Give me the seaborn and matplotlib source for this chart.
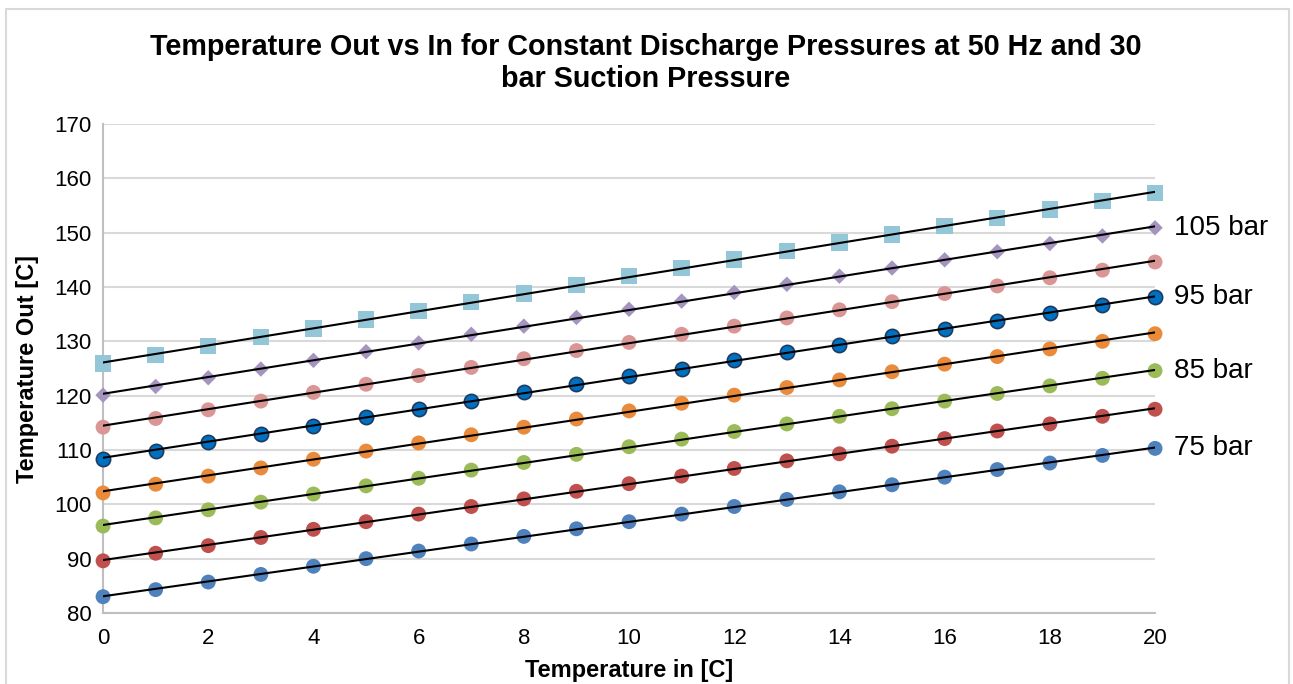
import numpy as np
import pandas as pd
import matplotlib
matplotlib.use("Agg")
import matplotlib.pyplot as plt
from matplotlib.patches import Rectangle
import seaborn as sns

# ---- data ----
temp_in = list(range(0, 21))
s75 = [83.0, 84.3, 85.7, 87.1, 88.6, 90.0, 91.4, 92.7, 94.1, 95.5, 96.8, 98.2, 99.6, 100.9, 102.3, 103.6, 105.0, 106.4, 107.6, 109.0, 110.3]
s80 = [89.6, 91.0, 92.4, 93.9, 95.4, 96.8, 98.2, 99.6, 101.0, 102.4, 103.8, 105.2, 106.6, 108.0, 109.3, 110.7, 112.1, 113.5, 114.8, 116.2, 117.5]
s85 = [96.0, 97.5, 99.0, 100.4, 101.9, 103.4, 104.8, 106.3, 107.7, 109.2, 110.6, 112.0, 113.4, 114.8, 116.2, 117.6, 119.0, 120.4, 121.8, 123.2, 124.6]
s90 = [102.1, 103.7, 105.2, 106.7, 108.3, 109.8, 111.3, 112.8, 114.2, 115.7, 117.2, 118.6, 120.1, 121.5, 122.9, 124.4, 125.8, 127.2, 128.6, 130.0, 131.4]
s95 = [108.4, 109.9, 111.4, 113.0, 114.5, 116.0, 117.5, 119.1, 120.6, 122.1, 123.6, 125.0, 126.5, 128.0, 129.4, 130.9, 132.3, 133.8, 135.2, 136.6, 138.1]
s100 = [114.2, 115.8, 117.4, 119.0, 120.6, 122.1, 123.7, 125.2, 126.8, 128.3, 129.8, 131.3, 132.8, 134.3, 135.8, 137.3, 138.8, 140.2, 141.7, 143.1, 144.6]
s105 = [120.1, 121.7, 123.3, 124.9, 126.5, 128.1, 129.7, 131.3, 132.8, 134.4, 135.9, 137.4, 139.0, 140.5, 142.0, 143.5, 145.0, 146.5, 148.0, 149.4, 150.9]
s110 = [125.9, 127.5, 129.1, 130.8, 132.4, 134.0, 135.6, 137.2, 138.8, 140.4, 142.0, 143.5, 145.1, 146.6, 148.2, 149.7, 151.2, 152.7, 154.3, 155.8, 157.3]

series_names = ["75 bar", "80 bar", "85 bar", "90 bar", "95 bar", "100 bar", "105 bar", "110 bar"]
series_values = [s75, s80, s85, s90, s95, s100, s105, s110]
labelled = ["75 bar", "85 bar", "95 bar", "105 bar"]

title = "Temperature Out vs In for Constant Discharge Pressures at 50 Hz and 30\nbar Suction Pressure"
xlabel = "Temperature in [C]"
ylabel = "Temperature Out [C]"
xticks = list(range(0, 21, 2))
yticks = list(range(80, 171, 10))

# ---- styles ----
colors = ["#4F81BD", "#C0504D", "#9BBB59", "#E98B3A", "#0070C0", "#D99694", "#A594C0", "#93C6D6"]
edges = ["none", "none", "none", "none", "#1F3A60", "none", "none", "none"]
markers = ["o", "o", "o", "o", "o", "o", "D", "s"]
sizes = [115, 115, 115, 115, 105, 115, 62, 140]

sns.set_theme(style="white")
plt.rcParams["font.family"] = ["Liberation Sans", "DejaVu Sans"]
plt.rcParams["text.color"] = "black"
plt.rcParams["axes.labelcolor"] = "black"

fig = plt.figure(figsize=(12.93, 6.84), dpi=100)
ax = fig.add_axes([0.0797, 0.1038, 0.8136, 0.7149])

fig.patches.append(Rectangle((0.0045, -0.02), 0.9925, 1.007, transform=fig.transFigure,
                             fill=False, edgecolor="#D9D9D9", linewidth=1.5))

for name, vals, c, e, m, s in zip(series_names, series_values, colors, edges, markers, sizes):
    df = pd.DataFrame({"x": temp_in, "y": vals})
    sns.scatterplot(data=df, x="x", y="y", ax=ax, color=c, marker=m, s=s,
                    edgecolor=e, linewidth=1.2 if e != "none" else 0, zorder=3, clip_on=False)
    sns.regplot(data=df, x="x", y="y", ax=ax, scatter=False, ci=None,
                line_kws={"color": "black", "lw": 1.5, "zorder": 4})
    if name in labelled:
        ax.annotate(name, xy=(temp_in[-1], vals[-1]), xytext=(14, 0), textcoords="offset points",
                    ha="left", va="center", fontsize=20, color="black", annotation_clip=False)

ax.set_xlim(0, 20)
ax.set_ylim(80, 170)
ax.set_xticks(xticks)
ax.set_yticks(yticks)
ax.tick_params(axis="both", labelsize=16, colors="black", length=0)
ax.tick_params(axis="x", pad=11)
ax.tick_params(axis="y", pad=8)
ax.yaxis.grid(True, color="#D9D9D9", linewidth=1.5)
ax.xaxis.grid(False)
for side in ["top", "right"]:
    ax.spines[side].set_visible(False)
for side in ["left", "bottom"]:
    ax.spines[side].set_color("#BFBFBF")
    ax.spines[side].set_linewidth(1.5)

ax.set_xlabel(xlabel, fontsize=17, fontweight="bold", va="center", color="black")
ax.set_ylabel(ylabel, fontsize=17, fontweight="bold", va="center", color="black")
ax.xaxis.set_label_coords(0.5, -0.118)
ax.yaxis.set_label_coords(-0.072, 0.5)
fig.text(0.4995, 0.908, title, ha="center", va="center", fontsize=20.7, fontweight="bold",
         linespacing=1.15, color="black")

fig.savefig("out.png", dpi=100)
